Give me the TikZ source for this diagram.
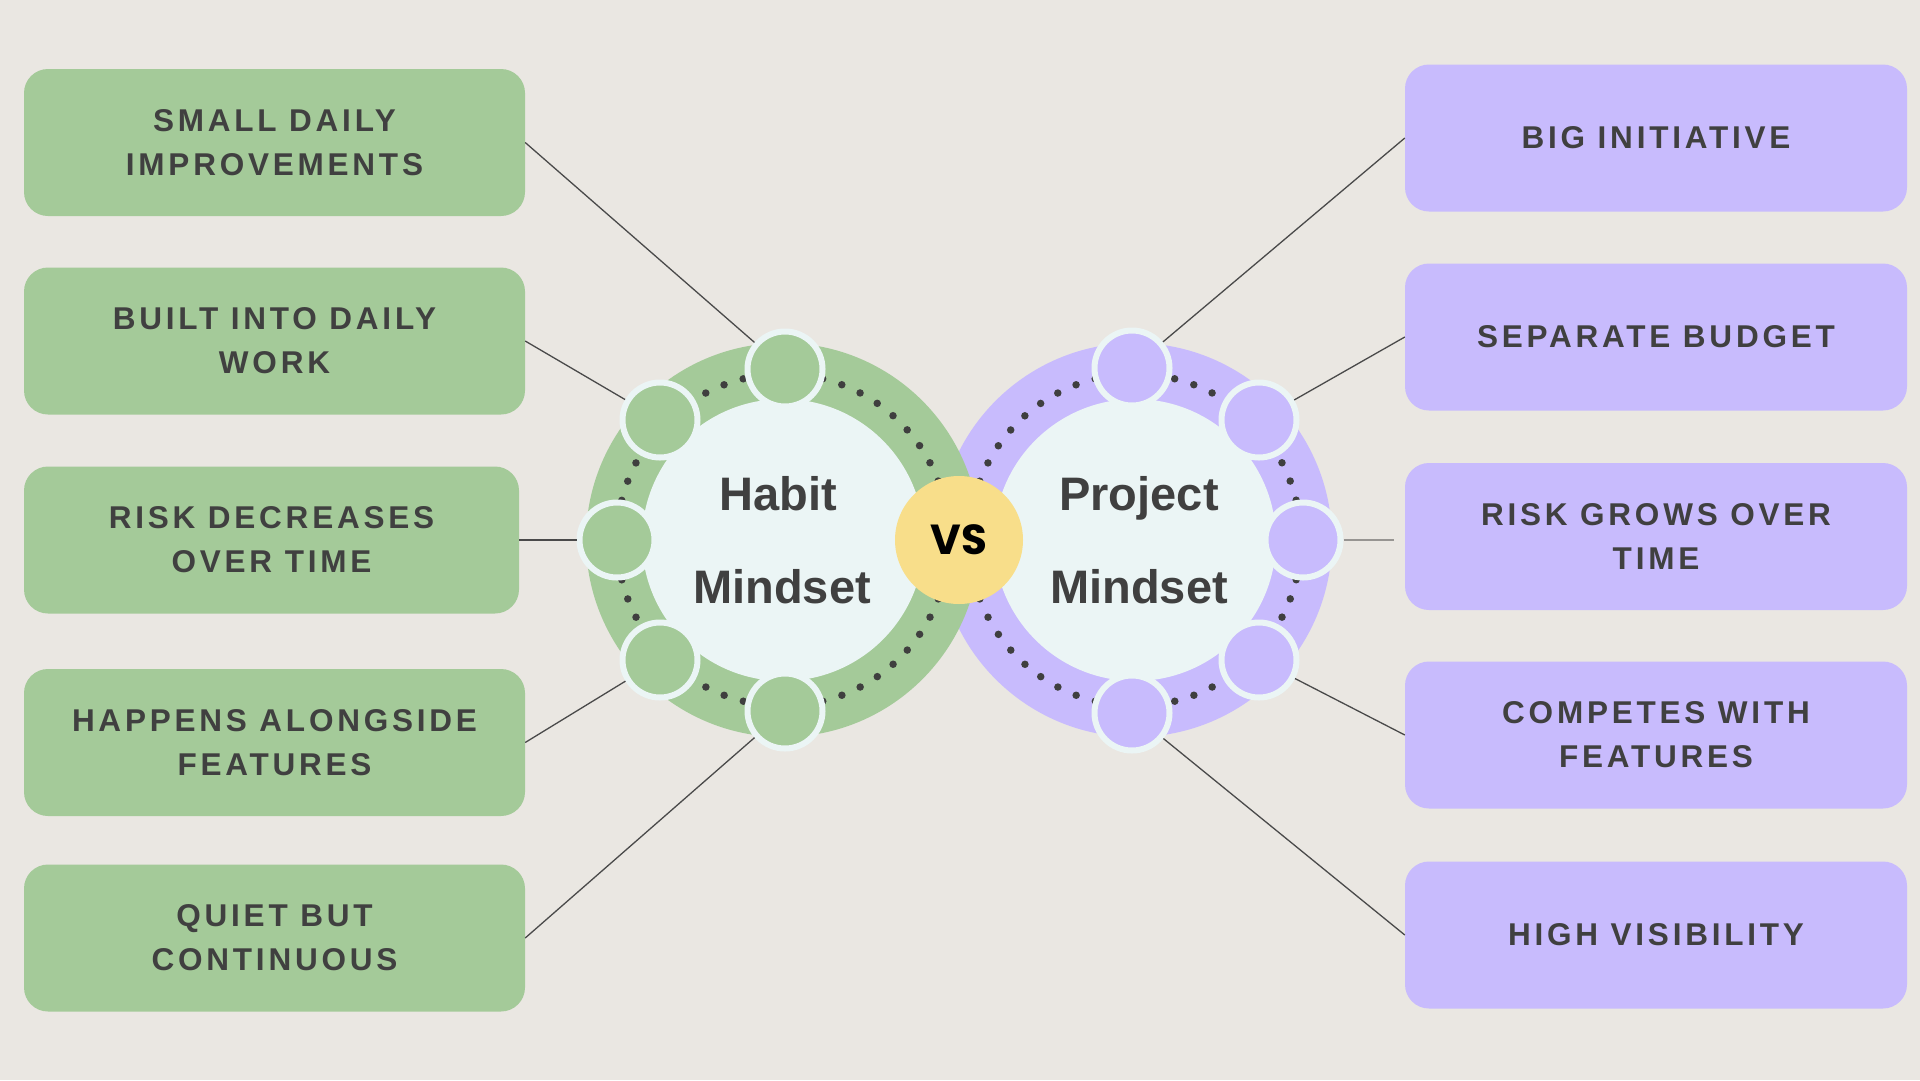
\documentclass[tikz,border=0pt]{standalone}
\usepackage{fontspec}
\setmainfont{Liberation Sans}
\newfontfamily\labelfont{Liberation Sans}[LetterSpace=12]
\newfontfamily\vsfont{Poppins}
\usetikzlibrary{calc}
\definecolor{bgc}{HTML}{EAE7E2}
\definecolor{hgreen}{HTML}{A4CA99}
\definecolor{ppurple}{HTML}{C8BBFD}
\definecolor{lightc}{HTML}{EBF5F5}
\definecolor{yellowc}{HTML}{F8DE8A}
\definecolor{txtc}{HTML}{404040}
\definecolor{linec}{HTML}{4A4A4A}
\definecolor{grayline}{HTML}{979592}
\definecolor{dotc}{HTML}{3F3F3F}
\begin{document}
\begin{tikzpicture}[x=1pt,y=-1pt,
  labelbox/.style={rectangle, rounded corners=24pt, minimum height=147pt, inner sep=0pt,
    text=txtc, align=center, font=\labelfont\bfseries\fontsize{31.5}{44}\selectfont},
  gbox/.style={labelbox, fill=hgreen, minimum width=501pt},
  pbox/.style={labelbox, fill=ppurple, minimum width=502pt},
  dotring/.style={draw=dotc, line width=7.5pt, line cap=round, dash pattern=on 0pt off 20.058pt},
  smallc/.style={circle, minimum size=75pt, inner sep=0pt, line width=6pt, draw=lightc},
  link/.style={draw=linec, line width=1.3pt},
  bigtext/.style={anchor=base, text=txtc, font=\bfseries\fontsize{47}{50}\selectfont, inner sep=0pt}
]
\fill[bgc] (0,0) rectangle (1920,1080);
\useasboundingbox (0,0) rectangle (1920,1080);

% big rings
\coordinate (L) at (783,540);
\coordinate (R) at (1135,540);
\fill[ppurple] (R) circle[radius=197];
\fill[hgreen] (L) circle[radius=197];
\fill[lightc] (L) circle[radius=141];
\fill[lightc] (R) circle[radius=141];
\draw[dotring] (L) circle[radius=166];
\draw[dotring] (R) circle[radius=166];

% boxes
\node[gbox] (gb1) at (274.5,142.5) {SMALL DAILY\\IMPROVEMENTS};
\node[gbox] (gb2) at (274.5,341) {BUILT INTO DAILY\\WORK};
\node[gbox, minimum width=495pt] (gb3) at (271.5,540) {RISK DECREASES\\OVER TIME};
\node[gbox] (gb4) at (274.5,742.5) {HAPPENS ALONGSIDE\\FEATURES};
\node[gbox] (gb5) at (274.5,938) {QUIET BUT\\CONTINUOUS};

\node[pbox] (pb1) at (1656,138) {BIG INITIATIVE};
\node[pbox] (pb2) at (1656,337) {SEPARATE BUDGET};
\node[pbox] (pb3) at (1656,536.5) {RISK GROWS OVER\\TIME};
\node[pbox] (pb4) at (1656,735) {COMPETES WITH\\FEATURES};
\node[pbox] (pb5) at (1656,935) {HIGH VISIBILITY};

% small circles
\node[smallc, fill=hgreen] (g1) at (785,369) {};
\node[smallc, fill=hgreen] (g2) at (660,420) {};
\node[smallc, fill=hgreen] (g3) at (617,540) {};
\node[smallc, fill=hgreen] (g4) at (660,660) {};
\node[smallc, fill=hgreen] (g5) at (785,711) {};

\node[smallc, fill=ppurple] (p1) at (1132,368) {};
\node[smallc, fill=ppurple] (p2) at (1259,420) {};
\node[smallc, fill=ppurple] (p3) at (1303,540) {};
\node[smallc, fill=ppurple] (p4) at (1259,660) {};
\node[smallc, fill=ppurple] (p5) at (1132,713) {};

% connectors
\draw[link] (gb1.east) -- (g1);
\draw[link] (gb2.east) -- (g2);
\draw[link] (gb3.east) -- (g3);
\draw[link] (gb4.east) -- (g4);
\draw[link] (gb5.east) -- (g5);
\draw[link] (pb1.west) -- (p1);
\draw[link] (pb2.west) -- (p2);
\coordinate (gapend) at (1394,540);
\draw[draw=grayline, line width=2pt] (p3) -- (gapend);
\draw[link] (pb4.west) -- (p4);
\draw[link] (pb5.west) -- (p5);

% center texts
\node[bigtext] (h1) at (778,510) {Habit};
\node[bigtext] (h2) at (782,603) {Mindset};
\node[bigtext] (pr1) at (1139,510) {Project};
\node[bigtext] (pr2) at (1139,603) {Mindset};

% VS
\node[circle, fill=yellowc, minimum size=128pt, inner sep=0pt, text=black,
  font=\vsfont\bfseries\fontsize{42}{46}\selectfont] (vs) at (959,540) {VS};
\end{tikzpicture}
\end{document}
